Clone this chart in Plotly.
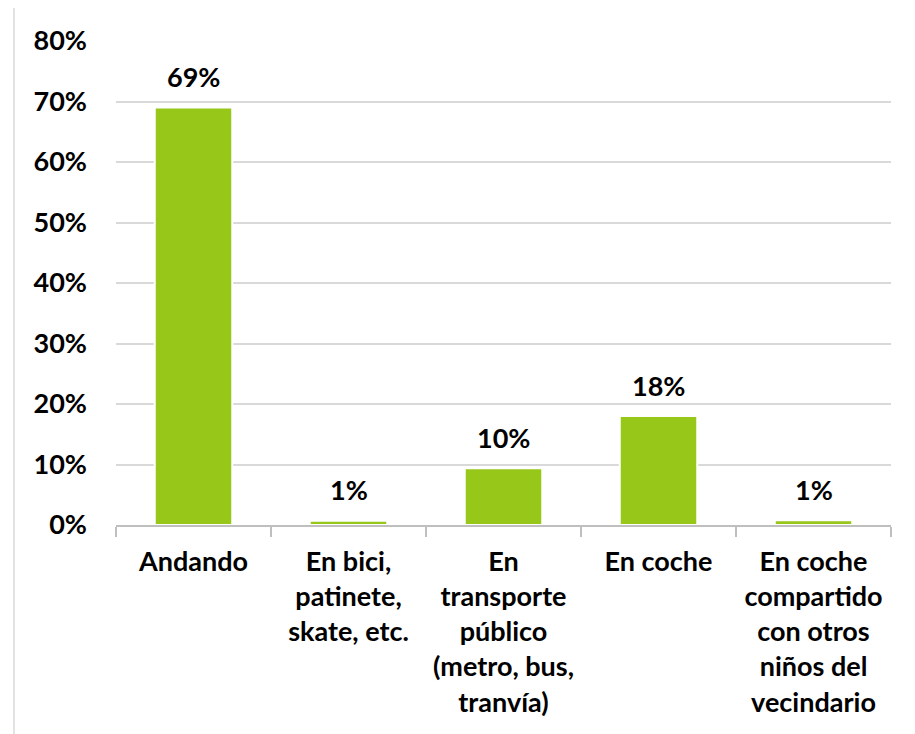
import plotly.graph_objects as go

categories = ["Andando", "En bici,<br>patinete,<br>skate, etc.", "En<br>transporte<br>público<br>(metro, bus,<br>tranvía)",
              "En coche", "En coche<br>compartido<br>con otros<br>niños del<br>vecindario"]
values = [69.0, 0.7, 9.4, 18.0, 0.8]
labels = ["69%", "1%", "10%", "18%", "1%"]
y_ticks = [0, 10, 20, 30, 40, 50, 60, 70, 80]
y_tick_text = ["0%", "10%", "20%", "30%", "40%", "50%", "60%", "70%", "80%"]

FONT = "Lato"
FS = 27
OFF = 8  # page body margin
W, H = 915 - OFF, 734 - OFF
L, R, T, B = 116 - OFF, 24, 41 - OFF, 209
pw, ph = W - L - R, H - T - B

fig = go.Figure()
fig.add_trace(go.Bar(
    x=categories, y=values, width=0.5,
    marker=dict(color="#97C718", line=dict(color="white", width=2)),
    hoverinfo="skip",
))

for c, v, t in zip(categories, values, labels):
    fig.add_annotation(x=c, y=v, text=t, showarrow=False, yanchor="middle", yshift=31,
                       font=dict(family=FONT, size=FS, color="black", weight="bold"))

def px_x(p):
    return (p - OFF - L) / pw

def px_y(p):
    return (H - B - (p - OFF)) / ph

fig.add_shape(type="line", xref="paper", yref="paper", x0=px_x(14), x1=px_x(915), y0=px_y(7), y1=px_y(7),
              line=dict(color="#D9D9D9", width=1.5))
fig.add_shape(type="line", xref="paper", yref="paper", x0=px_x(14), x1=px_x(14), y0=px_y(7), y1=px_y(734),
              line=dict(color="#D9D9D9", width=1.5))

fig.update_layout(
    width=W, height=H,
    margin=dict(l=L, r=R, t=T, b=B),
    paper_bgcolor="white", plot_bgcolor="white",
    showlegend=False,
    bargap=0.5,
    font=dict(family=FONT, size=FS, color="black", weight="bold"),
    xaxis=dict(
        type="category", showgrid=False, showline=True, linecolor="#BFBFBF", linewidth=1.5,
        ticks="outside", tickson="boundaries", ticklen=10, tickcolor="#BFBFBF", tickwidth=1.5,
        ticklabelstandoff=12,
        tickfont=dict(family=FONT, size=FS, color="black", weight="bold"),
        fixedrange=True,
    ),
    yaxis=dict(
        range=[0, 80], tickvals=y_ticks, ticktext=y_tick_text,
        showgrid=True, gridcolor="#D9D9D9", gridwidth=1.5, zeroline=False,
        showline=False, ticks="", ticklabelstandoff=28,
        tickfont=dict(family=FONT, size=FS, color="black", weight="bold"),
        fixedrange=True,
    ),
)

fig.write_html("out.html")
